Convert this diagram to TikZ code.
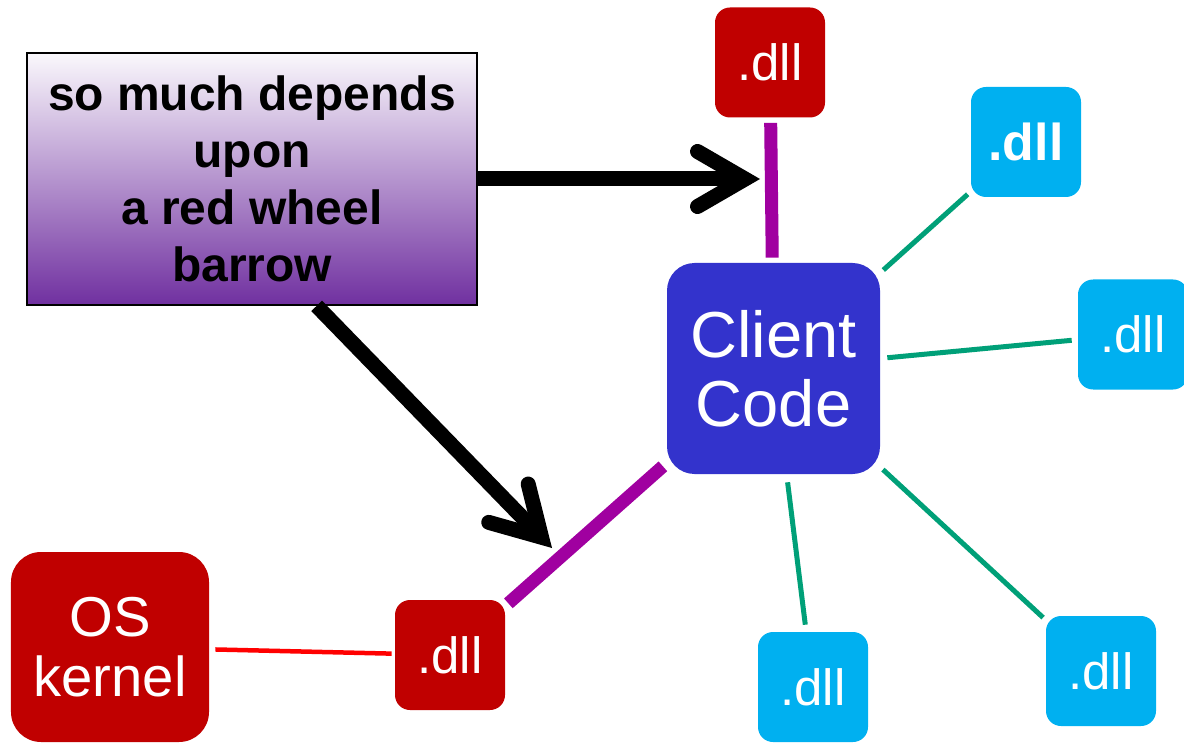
\documentclass[tikz,border=0pt]{standalone}
\usepackage{fontspec}
\setmainfont{Liberation Sans}
\usepackage{tikz}
\usetikzlibrary{arrows.meta}

\definecolor{dllred}{RGB}{192,0,0}
\definecolor{dllcyan}{RGB}{0,176,240}
\definecolor{codeblue}{RGB}{51,51,204}
\definecolor{linkpurple}{RGB}{160,0,160}
\definecolor{depgreen}{RGB}{0,160,120}
\definecolor{poemtop}{RGB}{250,248,252}
\definecolor{poembottom}{RGB}{112,48,160}

\begin{document}
\begin{tikzpicture}[
  poem/.style={draw=black, line width=1pt, top color=poemtop, bottom color=poembottom, minimum width=9cm, minimum height=5.04cm, align=center, font=\fontsize{27.3}{32.4}\selectfont\bfseries},
  client/.style={fill=codeblue, rounded corners=0.55cm, minimum width=4.26cm, minimum height=4.22cm, align=center, text=white, font=\fontsize{37}{39.3}\selectfont},
  kernel/.style={fill=dllred, rounded corners=0.6cm, minimum width=3.96cm, minimum height=3.8cm, align=center, text=white, font=\fontsize{32}{34}\selectfont},
  reddll/.style={fill=dllred, rounded corners=0.3cm, minimum width=2.2cm, minimum height=2.2cm, text=white, font=\fontsize{29}{32}\selectfont},
  cyandll/.style={fill=dllcyan, rounded corners=0.3cm, minimum width=2.2cm, minimum height=2.2cm, text=white, font=\fontsize{29}{32}\selectfont},
  link/.style={line width=0.26cm, linkpurple},
  dep/.style={line width=0.1cm, depgreen},
  syscall/.style={line width=0.09cm, red},
  arr/.style={line width=0.3cm, -{Straight Barb[length=0.95cm, width=1.1cm, line cap=round, line join=miter]}}
]
\useasboundingbox (0,0) rectangle (23.68,14.86);

\node[poem] (poem) at (5.04,11.28) {so much depends\\ upon\\ a red wheel\\ barrow};

\node[client] (client) at (15.47,7.49) {Client\\ Code};
\node[kernel] (os) at (2.20,1.92) {OS\\ kernel};

\node[reddll] (dlltop) at (15.40,13.61) {.dll};
\node[reddll] (dlllow) at (9.00,1.76) {.dll};

\node[cyandll, font=\fontsize{29.5}{32}\selectfont\bfseries] (dllne) at (20.52,12.02) {.dll};
\node[cyandll] (dlle)  at (22.66,8.17) {.dll};
\node[cyandll] (dlls)  at (16.26,1.12) {.dll};
\node[cyandll] (dllse) at (22.02,1.44) {.dll};

\coordinate (hittop) at (15.20,11.28);
\coordinate (hitlow) at (11.04,3.90);

\draw[link, shorten <=0.1cm, shorten >=0.1cm] (dlltop) -- (client);
\draw[link, shorten <=0.1cm, shorten >=0.08cm] (client) -- (dlllow);
\draw[syscall, shorten <=0.12cm, shorten >=0.06cm] (os) -- (dlllow);

\draw[dep, shorten <=0.08cm, shorten >=0.08cm] (client) -- (dllne);
\draw[dep, shorten <=0.14cm, shorten >=0.12cm] (client) -- (dlle);
\draw[dep, shorten <=0.16cm, shorten >=0.14cm] (client) -- (dlls);
\draw[dep, shorten <=0.07cm, shorten >=0.07cm] (client) -- (dllse);

\draw[arr] (poem.east) -- (hittop);
\draw[arr] (poem.-63) -- (hitlow);

\end{tikzpicture}
\end{document}
